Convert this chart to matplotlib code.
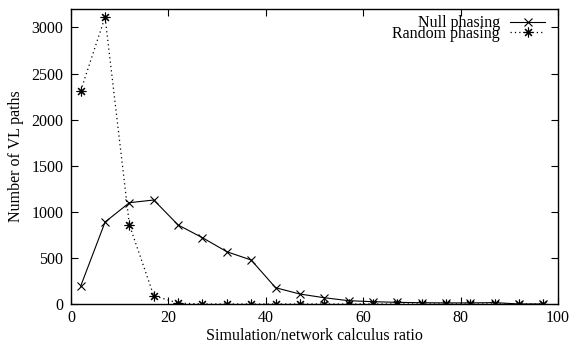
import matplotlib.pyplot as plt

plt.rcParams["font.family"] = ["Liberation Serif", "DejaVu Serif"]
plt.rcParams["font.size"] = 11.5

# ratio bins (centres) and path counts per bin
ratio = [2, 7, 12, 17, 22, 27, 32, 37, 42, 47, 52, 57, 62, 67, 72, 77, 82, 87, 92, 97]
null_phasing = [195, 889, 1099, 1128, 857, 719, 567, 477, 177, 108,
                68, 36, 25, 18, 14, 12, 12, 15, 0, 0]
random_phasing = [2313, 3113, 857, 90, 10, 0, 0, 0, 0, 0,
                  0, 0, 0, 0, 0, 0, 0, 0, 0, 0]

fig = plt.figure(figsize=(5.71, 3.43), dpi=100)
ax = fig.add_axes([0.1243, 0.1137, 0.8530, 0.8601])

ax.plot(ratio, null_phasing, color="black", lw=0.8, marker="x", ms=6,
        mew=0.8, label="Null phasing")
ax.plot(ratio, random_phasing, color="black", lw=0.9, ls=(0, (1, 2.5)),
        marker=(8, 2, 0), ms=7, mew=0.8, label="Random phasing")

ax.set_xlim(0, 100)
ax.set_ylim(0, 3200)
ax.set_xticks(range(0, 101, 20))
ax.set_yticks(range(0, 3001, 500))
ax.tick_params(direction="in", length=5, width=0.8, top=True, right=True)
ax.tick_params(axis="y", pad=5.5)
ax.tick_params(axis="x", pad=4.5)
for side in ax.spines.values():
    side.set_linewidth(1.0)

ax.set_xlabel("Simulation/network calculus ratio", labelpad=1)
ax.set_ylabel("Number of VL paths", labelpad=5)

ax.legend(loc="upper right", bbox_to_anchor=(0.99, 1.005), frameon=False,
          markerfirst=False, numpoints=1, handlelength=2.2,
          labelspacing=-0.35, borderaxespad=0.1, handletextpad=0.65,
          fontsize=11.5)

fig.savefig("out.png", dpi=100)
